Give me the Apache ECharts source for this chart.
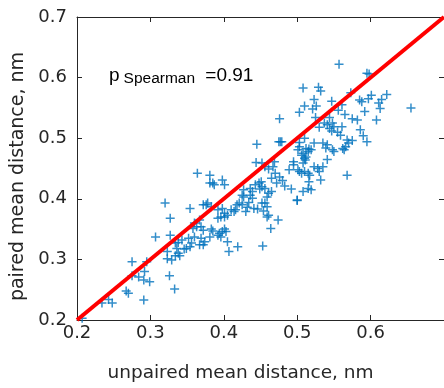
<!DOCTYPE html>
<html><head><meta charset="utf-8">
<script src="https://cdn.jsdelivr.net/npm/echarts@6/dist/echarts.min.js"></script>
<style>html,body{margin:0;padding:0;background:#fff}#c{width:444px;height:388px}</style>
</head><body><div id="c"></div>
<script>
// x values: unpaired mean distance (nm)
const unpaired = [
 0.557,0.595,0.598,0.508,0.529,0.532,0.523,0.573,0.601,0.622,0.615,0.585,0.588,0.597,0.547,0.510,0.503,0.521,0.525,0.561,0.556,0.565,0.592,0.611,0.613,0.655,0.476,0.544,0.575,0.582,0.608,0.526,
 0.445,0.475,0.477,0.479,0.503,0.503,0.510,0.512,0.501,0.523,0.519,0.535,0.541,0.539,0.530,0.537,0.541,0.548,0.550,0.544,0.547,0.555,0.559,0.561,0.568,0.575,0.570,0.566,0.562,0.586,0.590,0.595,0.516,
 0.476,0.465,0.470,0.444,0.452,0.456,0.461,0.469,0.467,0.489,0.495,0.495,0.501,0.503,0.506,0.510,0.515,0.517,0.523,0.528,0.530,0.535,0.506,0.508,0.510,0.512,0.515,0.508,0.511,0.541,0.548,0.550,0.564,0.568,
 0.364,0.381,0.385,0.381,0.398,0.401,0.387,0.427,0.425,0.427,0.436,0.436,0.439,0.439,0.443,0.448,0.452,0.449,0.451,0.456,0.461,0.465,0.459,0.472,0.480,0.483,0.492,0.500,0.508,0.515,0.519,0.516,0.532,
 0.320,0.327,0.354,0.360,0.367,0.376,0.378,0.372,0.383,0.392,0.392,0.396,0.401,0.398,0.401,0.405,0.410,0.416,0.418,0.421,0.414,0.425,0.430,0.432,0.434,0.441,0.446,0.454,0.452,0.456,0.459,0.461,0.459,0.464,0.474,0.500,
 0.307,0.327,0.334,0.338,0.343,0.336,0.352,0.356,0.349,0.354,0.360,0.369,0.374,0.372,0.367,0.381,0.383,0.385,0.372,0.369,0.363,0.358,0.392,0.396,0.394,0.401,0.403,0.398,0.405,0.419,0.453,
 0.207,0.234,0.248,0.243,0.267,0.270,0.291,0.333,0.326,0.299,0.291,0.284,0.275,0.292,0.275,0.295,0.323,0.329,0.338,0.323,0.346,0.334,0.340,0.407
];
// y values: paired mean distance (nm)
const paired = [
 0.622,0.607,0.606,0.583,0.584,0.578,0.564,0.575,0.571,0.572,0.564,0.563,0.560,0.565,0.561,0.553,0.543,0.548,0.534,0.555,0.546,0.539,0.544,0.558,0.549,0.550,0.532,0.534,0.532,0.530,0.530,0.553,
 0.490,0.494,0.494,0.494,0.493,0.486,0.500,0.483,0.481,0.492,0.481,0.492,0.489,0.484,0.518,0.525,0.522,0.525,0.519,0.516,0.512,0.510,0.505,0.519,0.497,0.496,0.492,0.486,0.483,0.514,0.504,0.494,0.482,
 0.436,0.434,0.442,0.460,0.459,0.453,0.449,0.461,0.453,0.448,0.461,0.456,0.448,0.445,0.442,0.445,0.442,0.439,0.453,0.450,0.445,0.453,0.472,0.475,0.467,0.469,0.478,0.459,0.464,0.465,0.481,0.478,0.481,0.439,
 0.442,0.439,0.426,0.426,0.431,0.423,0.423,0.415,0.406,0.403,0.417,0.406,0.412,0.401,0.423,0.426,0.420,0.416,0.428,0.417,0.409,0.412,0.403,0.426,0.430,0.421,0.416,0.398,0.412,0.417,0.415,0.428,0.431,
 0.393,0.368,0.384,0.360,0.365,0.390,0.393,0.390,0.387,0.382,0.368,0.370,0.370,0.384,0.376,0.373,0.382,0.382,0.390,0.393,0.379,0.390,0.379,0.386,0.394,0.384,0.383,0.380,0.393,0.393,0.387,0.373,0.370,0.351,0.365,0.397,
 0.337,0.340,0.327,0.328,0.332,0.318,0.335,0.327,0.318,0.321,0.337,0.335,0.329,0.324,0.324,0.337,0.350,0.347,0.348,0.354,0.354,0.351,0.340,0.337,0.343,0.350,0.346,0.346,0.329,0.321,0.322,
 0.203,0.228,0.228,0.234,0.248,0.244,0.233,0.251,0.273,0.263,0.266,0.271,0.273,0.280,0.296,0.296,0.301,0.299,0.310,0.313,0.317,0.306,0.306,0.313
];
// identity (y = x) reference line endpoints
const identityX = [0.2, 0.7];
const identityY = [0.2, 0.7];
const xTickLabels = ['0.2','0.3','0.4','0.5','0.6'];
const yTickLabels = ['0.2','0.3','0.4','0.5','0.6','0.7'];
const rhoLabel = 'Spearman';
const rhoValue = '=0.91';

const AX = '#262626';
const FONT = 'DejaVu Sans';
const tickFmt = (labels) => (v) => labels[Math.round((v - 0.2) / 0.1)] || '';

const axisBase = {
  type: 'value', min: 0.2, max: 0.7, interval: 0.1,
  axisLine: { show: true, onZero: false, lineStyle: { color: AX, width: 1 } },
  axisTick: { show: true, inside: true, length: 5, lineStyle: { color: AX, width: 1 } },
  splitLine: { show: false }
};

const chart = echarts.init(document.getElementById('c'), null, { renderer: 'canvas' });
chart.setOption({
  animation: false,
  backgroundColor: '#ffffff',
  grid: { left: 77, right: -6, top: 17, bottom: 68, containLabel: false },
  title: {
    left: 109, top: 66, padding: 0,
    text: '{m|p}{s|' + rhoLabel + '}{m| ' + rhoValue + '}',
    textStyle: {
      fontWeight: 'normal',
      rich: {
        m: { fontFamily: 'Liberation Sans', fontWeight: 'normal', fontSize: 19, color: '#000', verticalAlign: 'top', lineHeight: 21 },
        s: { fontFamily: 'Liberation Sans', fontWeight: 'normal', fontSize: 15.5, color: '#000', verticalAlign: 'bottom', lineHeight: 17, padding: [10, 5, 0, 4] }
      }
    }
  },
  xAxis: [
    Object.assign({}, axisBase, {
      position: 'bottom',
      axisLabel: { show: true, showMaxLabel: false, color: AX, fontFamily: FONT, fontSize: 18, margin: 4, formatter: tickFmt(xTickLabels) },
      name: 'unpaired mean distance, nm', nameLocation: 'middle', nameGap: 44,
      nameTextStyle: { color: AX, fontFamily: FONT, fontSize: 18.5, padding: [0, 40, 0, 0] }
    }),
    Object.assign({}, axisBase, { position: 'top', axisLabel: { show: false } })
  ],
  yAxis: [
    Object.assign({}, axisBase, {
      position: 'left',
      axisLabel: { show: true, color: AX, fontFamily: FONT, fontSize: 18, margin: 10, formatter: tickFmt(yTickLabels) },
      name: 'paired mean distance, nm', nameLocation: 'middle', nameGap: 46,
      nameTextStyle: { color: AX, fontFamily: FONT, fontSize: 19, padding: [0, 16, 0, 0] }
    }),
    Object.assign({}, axisBase, { position: 'right', axisLabel: { show: false } })
  ],
  series: [
    {
      type: 'scatter', xAxisIndex: 0, yAxisIndex: 0, silent: true,
      data: unpaired.map((x, i) => [x, paired[i]]),
      symbol: 'path://M5,0L5,10M0,5L10,5', symbolSize: 9,
      itemStyle: { color: 'rgba(0,0,0,0)', borderColor: '#0072BD', borderWidth: 1.5 },
      emphasis: { disabled: true }, z: 2
    },
    {
      type: 'line', xAxisIndex: 0, yAxisIndex: 0, silent: true,
      data: identityX.map((x, i) => [x, identityY[i]]),
      symbol: 'none', lineStyle: { color: '#FF0000', width: 4 }, z: 3
    }
  ]
});
</script>
</body></html>
